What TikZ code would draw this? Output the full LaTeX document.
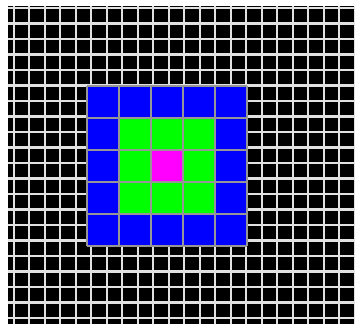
\documentclass[tikz,border=0pt]{standalone}
\definecolor{cellblue}{RGB}{0,0,255}
\definecolor{cellgreen}{RGB}{0,255,0}
\definecolor{cellmag}{RGB}{255,0,255}
\definecolor{cellgray}{RGB}{150,150,150}
\definecolor{finegray}{RGB}{225,225,225}
\begin{document}
\begin{tikzpicture}[x=1pt,y=1pt,
    gridline/.style={finegray,line width=2.2pt},
    cellline/.style={cellgray,line width=2pt}]
  \useasboundingbox (0,0) rectangle (355,324);
  \fill[black] (8,0) rectangle (355,318);
  % fine grid
  \foreach \k in {0,...,22}
    \draw[gridline] ({13.7+15.5*\k},0) -- ({13.7+15.5*\k},318);
  \foreach \k in {0,...,20}
    \draw[gridline] (8,{316-15.5*\k}) -- (355,{316-15.5*\k});
  % coloured block
  \begin{scope}[shift={(87,78)}]
    \fill[cellblue] (0,0) rectangle (160,160);
    \fill[cellgreen] (32,32) rectangle (128,128);
    \fill[cellmag] (64,64) rectangle (96,96);
    \draw[cellline] (0,0) grid[step=32] (160,160);
  \end{scope}
\end{tikzpicture}
\end{document}
